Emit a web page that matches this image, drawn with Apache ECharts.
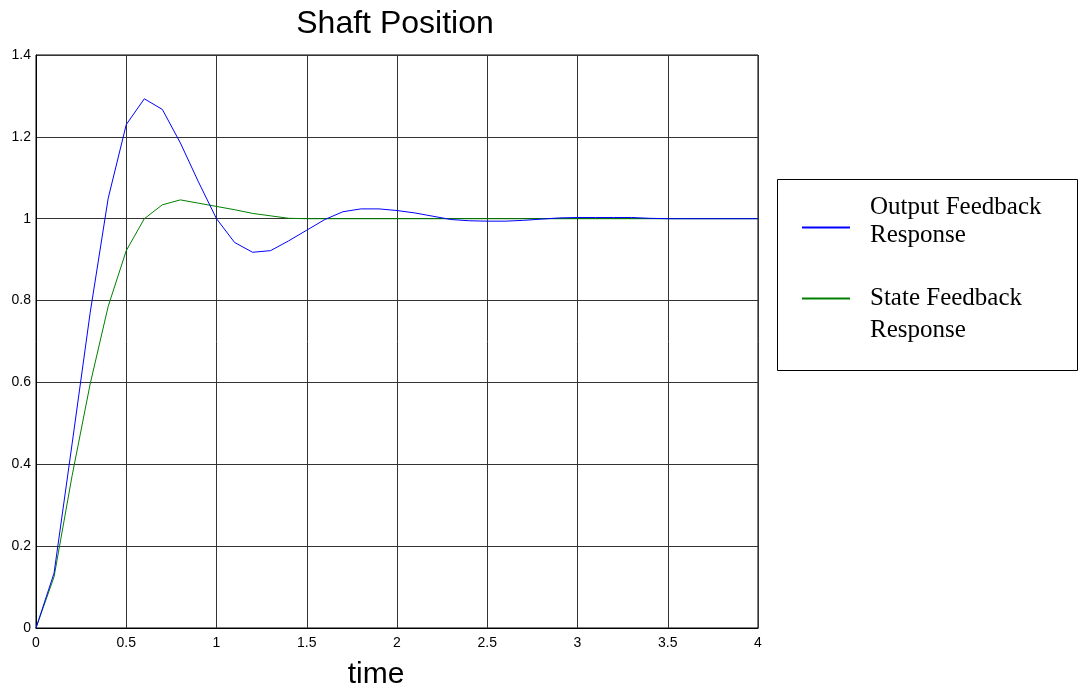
<!DOCTYPE html>
<html><head><meta charset="utf-8">
<script src="https://cdn.jsdelivr.net/npm/echarts@6/dist/echarts.min.js"></script>
<style>html,body{margin:0;padding:0;background:#fff}#c{width:1080px;height:685px}</style>
</head><body><div id="c"></div>
<script>
var time = [0,0.1,0.2,0.3,0.4,0.5,0.6,0.7,0.8,0.9,1.0,1.1,1.2,1.3,1.4,1.5,1.6,1.7,1.8,1.9,2.0,2.1,2.2,2.3,2.4,2.5,2.6,2.7,2.8,2.9,3.0,3.1,3.2,3.3,3.4,3.5,3.6,3.7,3.8,3.9,4.0];
var outputFeedback = [0,0.134,0.45,0.77,1.05,1.23,1.293,1.267,1.185,1.09,1.0,0.942,0.918,0.922,0.946,0.972,0.998,1.017,1.024,1.024,1.02,1.014,1.006,0.998,0.995,0.994,0.994,0.996,0.999,1.002,1.003,1.003,1.003,1.003,1.001,1.0,1.0,1.0,1.0,1.0,1.0];
var stateFeedback = [0,0.125,0.372,0.596,0.786,0.922,1.0,1.034,1.046,1.038,1.03,1.022,1.013,1.007,1.001,1.0,1.0,1.0,1.0,1.0,1.0,1.0,1.0,1.0,1.0,1.0,1.0,1.0,1.0,1.0,1.0,1.0,1.0,1.0,1.0,1.0,1.0,1.0,1.0,1.0,1.0];
var seriesNames = ['Output Feedback Response','State Feedback Response'];
var legendLines = [['Output Feedback','Response'],['State Feedback','Response']];
var colors = ['#0000ff','#008000'];

function pairs(v){ return time.map(function(t,i){ return [t, v[i]]; }); }
var sans = 'Liberation Sans, Arial, sans-serif';
var serif = 'Liberation Serif, Times New Roman, serif';

var chart = echarts.init(document.getElementById('c'), null, {renderer:'canvas'});
chart.setOption({
  animation:false,
  backgroundColor:'#fff',
  title:{text:'Shaft Position', left:390, top:3, textAlign:'center',
    textStyle:{fontFamily:sans, fontSize:32, fontWeight:'normal', color:'#000'}},
  grid:{left:36, right:322, top:55, bottom:57, show:true, borderColor:'#000', borderWidth:1,
    containLabel:false, outerBoundsMode:'none'},
  xAxis:{type:'value', min:0, max:4, interval:0.5,
    name:'time', nameLocation:'middle', nameGap:32,
    nameTextStyle:{fontFamily:sans, fontSize:30, color:'#000', padding:[0,42,0,0]},
    axisLine:{show:true, lineStyle:{color:'#000'}}, axisTick:{show:false},
    axisLabel:{fontFamily:sans, fontSize:14, color:'#000', margin:8},
    splitLine:{show:true, lineStyle:{color:'#333', width:1}}},
  yAxis:{type:'value', min:0, max:1.4, interval:0.2,
    axisLine:{show:true, lineStyle:{color:'#000'}}, axisTick:{show:false},
    axisLabel:{fontFamily:sans, fontSize:14, color:'#000', margin:5},
    splitLine:{show:true, lineStyle:{color:'#333', width:1}}},
  legend:[
    {data:[seriesNames[0]], orient:'vertical', left:802, top:195, padding:0,
     itemWidth:48, itemHeight:14, icon:'path://M0,6 L48,6 L48,8 L0,8 Z',
     formatter:function(){return '{a|'+legendLines[0][0]+'}\n{a|'+legendLines[0][1]+'}\n{s| }';},
     textStyle:{fontFamily:serif, fontSize:25, color:'#000', padding:[0,0,0,15],
       rich:{a:{fontFamily:serif, fontSize:25, color:'#000', lineHeight:28}, s:{fontSize:1, lineHeight:12}}}},
    {data:[seriesNames[1]], orient:'vertical', left:802, top:266, padding:0,
     itemWidth:48, itemHeight:14, icon:'path://M0,6 L48,6 L48,8 L0,8 Z',
     formatter:function(){return '{s| }\n{a|'+legendLines[1][0]+'}\n{a|'+legendLines[1][1]+'}';},
     textStyle:{fontFamily:serif, fontSize:25, color:'#000', padding:[0,0,0,15],
       rich:{a:{fontFamily:serif, fontSize:25, color:'#000', lineHeight:32}, s:{fontSize:1, lineHeight:32}}}}
  ],
  graphic:[{type:'rect', shape:{x:777.5, y:179.5, width:300, height:191}, style:{fill:'none', stroke:'#000', lineWidth:1}, z:-1}],
  series:[
    {name:seriesNames[0], type:'line', data:pairs(outputFeedback), showSymbol:false, symbol:'none',
     lineStyle:{color:colors[0], width:1}, itemStyle:{color:colors[0]}, z:3},
    {name:seriesNames[1], type:'line', data:pairs(stateFeedback), showSymbol:false, symbol:'none',
     lineStyle:{color:colors[1], width:1}, itemStyle:{color:colors[1]}, z:2}
  ]
});
</script></body></html>
